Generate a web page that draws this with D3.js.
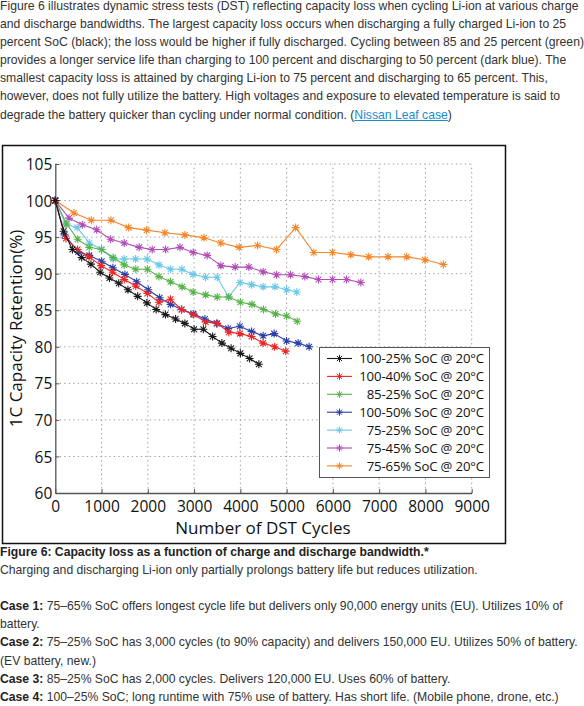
<!DOCTYPE html>
<html>
<head>
<meta charset="utf-8">
<script src="https://cdn.jsdelivr.net/npm/d3@7"></script>
<style>
  body { margin: 0; width: 584px; height: 706px; overflow: hidden; background: #fff; position: relative; }
  .txt { position: absolute; left: 0; font-family: "Liberation Sans", Arial, sans-serif; font-size: 12.2px; line-height: 18.1px; color: #333; white-space: nowrap; }
  .txt a { color: #1a8ccf; }
  #chart { position: absolute; left: 0; top: 0; }
</style>
</head>
<body>
<div class="txt" id="intro" style="top:-3px"></div>
<svg id="chart" width="584" height="706"></svg>
<div class="txt" id="caption" style="top:543px"></div>
<script>
// ---- data ----
var seriesNames = ["100-25% SoC @ 20°C", "100-40% SoC @ 20°C", "85-25% SoC @ 20°C", "100-50% SoC @ 20°C",
                   "75-25% SoC @ 20°C", "75-45% SoC @ 20°C", "75-65% SoC @ 20°C"];
var seriesColors = ["#1a1a1a", "#ee2424", "#58b44a", "#2b3ea8", "#6cc8e8", "#b24db8", "#f5862a"];

var cycles100_25 = [0, 180, 370, 570, 770, 970, 1170, 1370, 1570, 1780, 1980, 2180, 2380, 2600, 2800, 3000, 3200, 3400, 3600, 3800, 4000, 4200, 4400];
var ret100_25    = [100, 95.8, 93.3, 92.2, 91.3, 90.2, 89.4, 88.7, 87.8, 86.9, 86.0, 85.1, 84.4, 83.8, 83.2, 82.4, 82.4, 81.4, 80.5, 79.8, 79.1, 78.4, 77.6];

var cycles100_40 = [0, 230, 480, 730, 990, 1240, 1490, 1740, 1990, 2240, 2490, 2730, 2990, 3250, 3500, 3750, 3990, 4240, 4490, 4740, 4980];
var ret100_40    = [100, 94.8, 93.3, 92.3, 91.1, 90.2, 89.2, 88.3, 87.3, 86.1, 86.5, 85.1, 84.4, 83.4, 83.2, 82.0, 81.8, 81.4, 80.5, 80.0, 79.4];

var cycles85_25 = [0, 246, 484, 734, 1000, 1250, 1490, 1740, 1990, 2240, 2490, 2740, 2980, 3250, 3500, 3750, 4000, 4250, 4500, 4760, 5000, 5230];
var ret85_25    = [100, 96.8, 94.7, 93.6, 93.3, 92.2, 91.2, 90.6, 90.6, 89.6, 88.9, 88.2, 87.5, 87.1, 86.8, 86.8, 86.1, 85.8, 85.1, 84.5, 84.2, 83.5];

var cycles100_50 = [0, 200, 497, 734, 1002, 1245, 1505, 1760, 2009, 2255, 2492, 2730, 2981, 3234, 3486, 3737, 3989, 4242, 4492, 4730, 4998, 5248, 5486];
var ret100_50    = [100, 95.3, 93.0, 92.5, 91.7, 90.8, 89.9, 88.9, 87.8, 86.7, 85.8, 85.1, 84.5, 83.8, 83.2, 82.5, 82.8, 82.1, 81.5, 81.8, 80.8, 80.5, 80.0];

var cycles75_25 = [0, 220, 475, 734, 1002, 1253, 1490, 1736, 1987, 2240, 2492, 2737, 2975, 3248, 3500, 3745, 3995, 4242, 4492, 4750, 4998, 5220];
var ret75_25    = [100, 96.8, 96.3, 94.2, 93.3, 92.0, 92.0, 92.0, 92.0, 91.2, 90.6, 90.6, 89.9, 89.5, 89.5, 86.8, 88.8, 88.5, 88.2, 88.2, 87.8, 87.5];

var cycles75_45 = [0, 296, 584, 894, 1196, 1490, 1814, 2095, 2384, 2693, 2981, 3283, 3579, 3888, 4184, 4492, 4781, 5084, 5393, 5689, 5991, 6294, 6603];
var ret75_45    = [100, 97.6, 96.7, 96.0, 94.7, 94.2, 93.6, 93.3, 93.3, 93.6, 92.9, 92.5, 91.1, 90.9, 90.9, 90.25, 89.85, 89.85, 89.6, 89.2, 89.2, 89.2, 88.8];

var cycles75_65 = [0, 404, 780, 1203, 1585, 1974, 2369, 2801, 3212, 3579, 3974, 4371, 4781, 5195, 5587, 5991, 6387, 6775, 7192, 7596, 7991, 8389];
var ret75_65    = [100, 98.3, 97.3, 97.3, 96.3, 95.95, 95.6, 95.3, 94.9, 94.2, 93.6, 93.85, 93.3, 96.3, 92.9, 92.9, 92.6, 92.3, 92.3, 92.3, 91.9, 91.25];

var xTicks = [0, 1000, 2000, 3000, 4000, 5000, 6000, 7000, 8000, 9000];
var yTicks = [60, 65, 70, 75, 80, 85, 90, 95, 100, 105];

var introLines = [
  "Figure 6 illustrates dynamic stress tests (DST) reflecting capacity loss when cycling Li-ion at various charge",
  "and discharge bandwidths. The largest capacity loss occurs when discharging a fully charged Li-ion to 25",
  "percent SoC (black); the loss would be higher if fully discharged. Cycling between 85 and 25 percent (green)",
  "provides a longer service life than charging to 100 percent and discharging to 50 percent (dark blue). The",
  "smallest capacity loss is attained by charging Li-ion to 75 percent and discharging to 65 percent. This,",
  "however, does not fully utilize the battery. High voltages and exposure to elevated temperature is said to",
  "degrade the battery quicker than cycling under normal condition. (<a href=\"#\">Nissan Leaf case</a>)"
];
var captionLines = [
  "<b style=\"color:#222\">Figure 6: Capacity loss as a function of charge and discharge bandwidth.*</b>",
  "Charging and discharging Li-ion only partially prolongs battery life but reduces utilization.",
  "&nbsp;",
  "<b style=\"color:#222\">Case 1:</b> 75–65% SoC offers longest cycle life but delivers only 90,000 energy units (EU). Utilizes 10% of",
  "battery.",
  "<b style=\"color:#222\">Case 2:</b> 75–25% SoC has 3,000 cycles (to 90% capacity) and delivers 150,000 EU. Utilizes 50% of battery.",
  "(EV battery, new.)",
  "<b style=\"color:#222\">Case 3:</b> 85–25% SoC has 2,000 cycles. Delivers 120,000 EU. Uses 60% of battery.",
  "<b style=\"color:#222\">Case 4:</b> 100–25% SoC; long runtime with 75% use of battery. Has short life. (Mobile phone, drone, etc.)"
];

var allCycles = [cycles100_25, cycles100_40, cycles85_25, cycles100_50, cycles75_25, cycles75_45, cycles75_65];
var allRet = [ret100_25, ret100_40, ret85_25, ret100_50, ret75_25, ret75_45, ret75_65];

d3.select("#intro").selectAll("div").data(introLines).enter().append("div").html(function(d) { return d; });
d3.select("#caption").selectAll("div").data(captionLines).enter().append("div").html(function(d) { return d; });

var svg = d3.select("#chart");

// frame around the figure
svg.append("rect")
  .attr("x", 2.5).attr("y", 145.5).attr("width", 503).attr("height", 398)
  .attr("fill", "none").attr("stroke", "#111").attr("stroke-width", 1.5);

var x = d3.scaleLinear().domain([0, 9000]).range([55.3, 471.7]);
var y = d3.scaleLinear().domain([60, 105]).range([493, 164]);

var tickFont = "'Open Sans', 'Noto Sans', sans-serif";

// grid
svg.append("g").selectAll("line.gx").data(xTicks.slice(1)).enter().append("line")
  .attr("x1", function(d) { return x(d); }).attr("x2", function(d) { return x(d); })
  .attr("y1", y(60)).attr("y2", y(105))
  .attr("stroke", "#999").attr("stroke-dasharray", "1.3,3.2").attr("stroke-width", 1);
svg.append("g").selectAll("line.gy").data(yTicks.slice(1)).enter().append("line")
  .attr("x1", x(0)).attr("x2", x(9000))
  .attr("y1", function(d) { return y(d); }).attr("y2", function(d) { return y(d); })
  .attr("stroke", "#999").attr("stroke-dasharray", "1.3,3.2").attr("stroke-width", 1);

// axes
var xAxis = svg.append("g").attr("transform", "translate(0," + y(60) + ")")
  .call(d3.axisBottom(x).tickValues(xTicks).tickSizeInner(-4).tickSizeOuter(0).tickPadding(8).tickFormat(d3.format("d")));
var yAxis = svg.append("g").attr("transform", "translate(" + x(0) + ",0)")
  .call(d3.axisLeft(y).tickValues(yTicks).tickSizeInner(-4).tickSizeOuter(0).tickPadding(3));
[xAxis, yAxis].forEach(function(a) {
  a.select(".domain").attr("stroke", "#555").attr("stroke-width", 1.3);
  a.selectAll(".tick line").attr("stroke", "#555");
  a.selectAll("text").attr("font-family", tickFont).attr("font-size", "15.5px").attr("fill", "#111");
});
xAxis.selectAll("text").attr("dy", "0.71em");
yAxis.selectAll("text").attr("dy", "0.36em");

svg.append("text")
  .attr("x", 263).attr("y", 534)
  .attr("text-anchor", "middle").attr("font-family", tickFont).attr("font-size", "17px").attr("fill", "#111")
  .text("Number of DST Cycles");
svg.append("text")
  .attr("transform", "translate(22," + y(82.5) + ") rotate(-90)")
  .attr("text-anchor", "middle").attr("font-family", tickFont).attr("font-size", "17px").attr("fill", "#111")
  .text("1C Capacity Retention(%)");

// series
function star(r) {
  var a = r * 0.72;
  return "M" + (-r) + ",0L" + r + ",0M0," + (-r) + "L0," + r +
         "M" + (-a) + "," + (-a) + "L" + a + "," + a + "M" + (-a) + "," + a + "L" + a + "," + (-a);
}
var line = d3.line().x(function(d) { return x(d[0]); }).y(function(d) { return y(d[1]); });

var drawOrder = [6, 5, 4, 2, 3, 1, 0];
drawOrder.forEach(function(i) {
  var pts = d3.zip(allCycles[i], allRet[i]);
  var g = svg.append("g");
  g.append("path").attr("d", line(pts)).attr("fill", "none")
    .attr("stroke", seriesColors[i]).attr("stroke-width", 1.1);
  g.selectAll("path.m").data(pts).enter().append("path")
    .attr("transform", function(d) { return "translate(" + x(d[0]) + "," + y(d[1]) + ")"; })
    .attr("d", star(4)).attr("fill", "none")
    .attr("stroke", seriesColors[i]).attr("stroke-width", 1.1);
});

// legend
var lg = svg.append("g");
lg.append("rect").attr("x", 319.5).attr("y", 347.5).attr("width", 170).attr("height", 130)
  .attr("fill", "#fff").attr("stroke", "#555").attr("stroke-width", 1);
var rows = lg.selectAll("g.row").data(seriesNames).enter().append("g")
  .attr("transform", function(d, i) { return "translate(0," + (358.5 + i * 17.9) + ")"; });
rows.append("line").attr("x1", 327).attr("x2", 352).attr("y1", 0).attr("y2", 0)
  .attr("stroke", function(d, i) { return seriesColors[i]; }).attr("stroke-width", 1.1);
rows.append("path").attr("transform", "translate(339.5,0)").attr("d", star(3.6)).attr("fill", "none")
  .attr("stroke", function(d, i) { return seriesColors[i]; }).attr("stroke-width", 1);
rows.append("text").attr("x", 484).attr("y", 0).attr("dy", "0.36em")
  .attr("text-anchor", "end").attr("font-family", tickFont).attr("font-size", "13.2px")
  .attr("letter-spacing", "-0.15px").attr("fill", "#111")
  .text(function(d) { return d; });
</script>
</body>
</html>
